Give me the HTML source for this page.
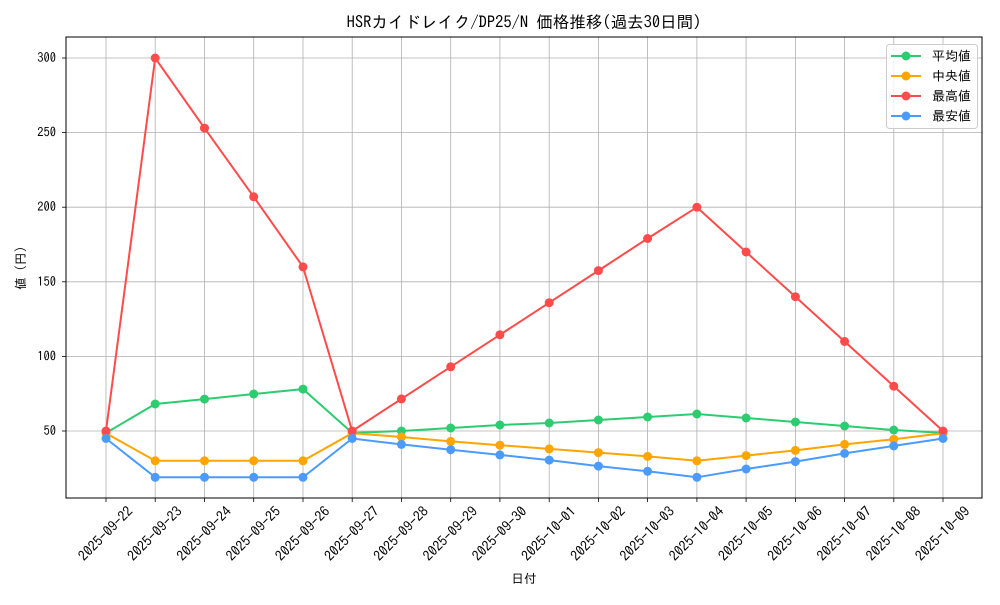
<!DOCTYPE html>
<html><head><meta charset="utf-8"><style>
body{margin:0;background:#fff}
text{font-family:"IPAGothic","Liberation Sans","Noto Sans CJK JP",sans-serif;fill:#000}
</style></head><body>
<svg width="1000" height="600" xmlns="http://www.w3.org/2000/svg">
<rect width="1000" height="600" fill="#fff"/>
<g stroke="#b0b0b0" stroke-width="0.8">
<line x1="106" y1="37" x2="106" y2="498"/><line x1="155.2" y1="37" x2="155.2" y2="498"/><line x1="204.5" y1="37" x2="204.5" y2="498"/><line x1="253.7" y1="37" x2="253.7" y2="498"/><line x1="303" y1="37" x2="303" y2="498"/><line x1="352.2" y1="37" x2="352.2" y2="498"/><line x1="401.4" y1="37" x2="401.4" y2="498"/><line x1="450.7" y1="37" x2="450.7" y2="498"/><line x1="499.9" y1="37" x2="499.9" y2="498"/><line x1="549.2" y1="37" x2="549.2" y2="498"/><line x1="598.4" y1="37" x2="598.4" y2="498"/><line x1="647.6" y1="37" x2="647.6" y2="498"/><line x1="696.9" y1="37" x2="696.9" y2="498"/><line x1="746.1" y1="37" x2="746.1" y2="498"/><line x1="795.4" y1="37" x2="795.4" y2="498"/><line x1="844.6" y1="37" x2="844.6" y2="498"/><line x1="893.8" y1="37" x2="893.8" y2="498"/><line x1="943" y1="37" x2="943" y2="498"/>
<line x1="66" y1="431" x2="982" y2="431"/><line x1="66" y1="356.4" x2="982" y2="356.4"/><line x1="66" y1="281.8" x2="982" y2="281.8"/><line x1="66" y1="207.2" x2="982" y2="207.2"/><line x1="66" y1="132.6" x2="982" y2="132.6"/><line x1="66" y1="58" x2="982" y2="58"/>
</g>
<g stroke="#000" stroke-width="0.8">
<line x1="106" y1="498" x2="106" y2="502"/><line x1="155.2" y1="498" x2="155.2" y2="502"/><line x1="204.5" y1="498" x2="204.5" y2="502"/><line x1="253.7" y1="498" x2="253.7" y2="502"/><line x1="303" y1="498" x2="303" y2="502"/><line x1="352.2" y1="498" x2="352.2" y2="502"/><line x1="401.4" y1="498" x2="401.4" y2="502"/><line x1="450.7" y1="498" x2="450.7" y2="502"/><line x1="499.9" y1="498" x2="499.9" y2="502"/><line x1="549.2" y1="498" x2="549.2" y2="502"/><line x1="598.4" y1="498" x2="598.4" y2="502"/><line x1="647.6" y1="498" x2="647.6" y2="502"/><line x1="696.9" y1="498" x2="696.9" y2="502"/><line x1="746.1" y1="498" x2="746.1" y2="502"/><line x1="795.4" y1="498" x2="795.4" y2="502"/><line x1="844.6" y1="498" x2="844.6" y2="502"/><line x1="893.8" y1="498" x2="893.8" y2="502"/><line x1="943" y1="498" x2="943" y2="502"/>
<line x1="62" y1="431" x2="66" y2="431"/><line x1="62" y1="356.4" x2="66" y2="356.4"/><line x1="62" y1="281.8" x2="66" y2="281.8"/><line x1="62" y1="207.2" x2="66" y2="207.2"/><line x1="62" y1="132.6" x2="66" y2="132.6"/><line x1="62" y1="58" x2="66" y2="58"/>
</g>
<g font-size="12.5" text-anchor="end">
<text x="56" y="435">50</text><text x="56" y="360.4">100</text><text x="56" y="285.8">150</text><text x="56" y="211.2">200</text><text x="56" y="136.6">250</text><text x="56" y="62">300</text>
</g>
<g font-size="14" text-anchor="middle">
<text transform="translate(109,537) rotate(-45)">2025-09-22</text>
<text transform="translate(158.2,537) rotate(-45)">2025-09-23</text>
<text transform="translate(207.5,537) rotate(-45)">2025-09-24</text>
<text transform="translate(256.7,537) rotate(-45)">2025-09-25</text>
<text transform="translate(306,537) rotate(-45)">2025-09-26</text>
<text transform="translate(355.2,537) rotate(-45)">2025-09-27</text>
<text transform="translate(404.4,537) rotate(-45)">2025-09-28</text>
<text transform="translate(453.7,537) rotate(-45)">2025-09-29</text>
<text transform="translate(502.9,537) rotate(-45)">2025-09-30</text>
<text transform="translate(552.2,537) rotate(-45)">2025-10-01</text>
<text transform="translate(601.4,537) rotate(-45)">2025-10-02</text>
<text transform="translate(650.6,537) rotate(-45)">2025-10-03</text>
<text transform="translate(699.9,537) rotate(-45)">2025-10-04</text>
<text transform="translate(749.1,537) rotate(-45)">2025-10-05</text>
<text transform="translate(798.4,537) rotate(-45)">2025-10-06</text>
<text transform="translate(847.6,537) rotate(-45)">2025-10-07</text>
<text transform="translate(896.8,537) rotate(-45)">2025-10-08</text>
<text transform="translate(946,537) rotate(-45)">2025-10-09</text>
</g>
<text x="524" y="583" font-size="12.5" text-anchor="middle">日付</text>
<text transform="translate(25,268) rotate(-90)" font-size="12.5" text-anchor="middle">値 (円)</text>
<text x="524" y="28" font-size="16.5" text-anchor="middle">HSRカイドレイク/DP25/N 価格推移(過去30日間)</text>
<g fill="none" stroke-width="2">
<polyline stroke="#2ecc71" points="106,432.9 155.2,404 204.5,399.1 253.7,394 303,389.1 352.2,432.9 401.4,431 450.7,428 499.9,425 549.2,423 598.4,420 647.6,417 696.9,414 746.1,418 795.4,422 844.6,426 893.8,430 943,432.9"/>
<polyline stroke="#ffa500" points="106,433.2 155.2,460.8 204.5,460.8 253.7,460.8 303,460.8 352.2,433.2 401.4,437 450.7,441.4 499.9,445.2 549.2,448.9 598.4,452.6 647.6,456.4 696.9,460.8 746.1,455.6 795.4,450.4 844.6,444.4 893.8,439.2 943,433.2"/>
<polyline stroke="#ff4b4b" points="106,431 155.2,58 204.5,128.1 253.7,196.8 303,266.9 352.2,431 401.4,398.9 450.7,366.8 499.9,334.8 549.2,302.7 598.4,270.6 647.6,238.5 696.9,207.2 746.1,252 795.4,296.7 844.6,341.5 893.8,386.2 943,431"/>
<polyline stroke="#4b9bff" points="106,438.5 155.2,477.3 204.5,477.3 253.7,477.3 303,477.3 352.2,438.5 401.4,444.4 450.7,449.7 499.9,454.9 549.2,460.1 598.4,466.1 647.6,471.3 696.9,477.3 746.1,469 795.4,461.6 844.6,453.4 893.8,445.9 943,438.5"/>
</g>
<g fill="#2ecc71"><circle cx="106" cy="432.9" r="4.5"/><circle cx="155.2" cy="404" r="4.5"/><circle cx="204.5" cy="399.1" r="4.5"/><circle cx="253.7" cy="394" r="4.5"/><circle cx="303" cy="389.1" r="4.5"/><circle cx="352.2" cy="432.9" r="4.5"/><circle cx="401.4" cy="431" r="4.5"/><circle cx="450.7" cy="428" r="4.5"/><circle cx="499.9" cy="425" r="4.5"/><circle cx="549.2" cy="423" r="4.5"/><circle cx="598.4" cy="420" r="4.5"/><circle cx="647.6" cy="417" r="4.5"/><circle cx="696.9" cy="414" r="4.5"/><circle cx="746.1" cy="418" r="4.5"/><circle cx="795.4" cy="422" r="4.5"/><circle cx="844.6" cy="426" r="4.5"/><circle cx="893.8" cy="430" r="4.5"/><circle cx="943" cy="432.9" r="4.5"/></g>
<g fill="#ffa500"><circle cx="106" cy="433.2" r="4.5"/><circle cx="155.2" cy="460.8" r="4.5"/><circle cx="204.5" cy="460.8" r="4.5"/><circle cx="253.7" cy="460.8" r="4.5"/><circle cx="303" cy="460.8" r="4.5"/><circle cx="352.2" cy="433.2" r="4.5"/><circle cx="401.4" cy="437" r="4.5"/><circle cx="450.7" cy="441.4" r="4.5"/><circle cx="499.9" cy="445.2" r="4.5"/><circle cx="549.2" cy="448.9" r="4.5"/><circle cx="598.4" cy="452.6" r="4.5"/><circle cx="647.6" cy="456.4" r="4.5"/><circle cx="696.9" cy="460.8" r="4.5"/><circle cx="746.1" cy="455.6" r="4.5"/><circle cx="795.4" cy="450.4" r="4.5"/><circle cx="844.6" cy="444.4" r="4.5"/><circle cx="893.8" cy="439.2" r="4.5"/><circle cx="943" cy="433.2" r="4.5"/></g>
<g fill="#ff4b4b"><circle cx="106" cy="431" r="4.5"/><circle cx="155.2" cy="58" r="4.5"/><circle cx="204.5" cy="128.1" r="4.5"/><circle cx="253.7" cy="196.8" r="4.5"/><circle cx="303" cy="266.9" r="4.5"/><circle cx="352.2" cy="431" r="4.5"/><circle cx="401.4" cy="398.9" r="4.5"/><circle cx="450.7" cy="366.8" r="4.5"/><circle cx="499.9" cy="334.8" r="4.5"/><circle cx="549.2" cy="302.7" r="4.5"/><circle cx="598.4" cy="270.6" r="4.5"/><circle cx="647.6" cy="238.5" r="4.5"/><circle cx="696.9" cy="207.2" r="4.5"/><circle cx="746.1" cy="252" r="4.5"/><circle cx="795.4" cy="296.7" r="4.5"/><circle cx="844.6" cy="341.5" r="4.5"/><circle cx="893.8" cy="386.2" r="4.5"/><circle cx="943" cy="431" r="4.5"/></g>
<g fill="#4b9bff"><circle cx="106" cy="438.5" r="4.5"/><circle cx="155.2" cy="477.3" r="4.5"/><circle cx="204.5" cy="477.3" r="4.5"/><circle cx="253.7" cy="477.3" r="4.5"/><circle cx="303" cy="477.3" r="4.5"/><circle cx="352.2" cy="438.5" r="4.5"/><circle cx="401.4" cy="444.4" r="4.5"/><circle cx="450.7" cy="449.7" r="4.5"/><circle cx="499.9" cy="454.9" r="4.5"/><circle cx="549.2" cy="460.1" r="4.5"/><circle cx="598.4" cy="466.1" r="4.5"/><circle cx="647.6" cy="471.3" r="4.5"/><circle cx="696.9" cy="477.3" r="4.5"/><circle cx="746.1" cy="469" r="4.5"/><circle cx="795.4" cy="461.6" r="4.5"/><circle cx="844.6" cy="453.4" r="4.5"/><circle cx="893.8" cy="445.9" r="4.5"/><circle cx="943" cy="438.5" r="4.5"/></g>
<rect x="66" y="37" width="916" height="461" fill="none" stroke="#000" stroke-width="1"/>
<rect x="886.5" y="44.5" width="91" height="84" rx="3" fill="#fff" fill-opacity="0.8" stroke="#ccc"/>
<g stroke-width="2"><line x1="891" y1="56" x2="921" y2="56" stroke="#2ecc71"/><line x1="891" y1="76" x2="921" y2="76" stroke="#ffa500"/><line x1="891" y1="96" x2="921" y2="96" stroke="#ff4b4b"/><line x1="891" y1="116" x2="921" y2="116" stroke="#4b9bff"/></g>
<circle cx="906" cy="56" r="4.5" fill="#2ecc71"/><circle cx="906" cy="76" r="4.5" fill="#ffa500"/><circle cx="906" cy="96" r="4.5" fill="#ff4b4b"/><circle cx="906" cy="116" r="4.5" fill="#4b9bff"/>
<g font-size="13"><text x="932" y="60.5">平均値</text><text x="932" y="80.5">中央値</text><text x="932" y="100.5">最高値</text><text x="932" y="120.5">最安値</text></g>
</svg>
</body></html>
